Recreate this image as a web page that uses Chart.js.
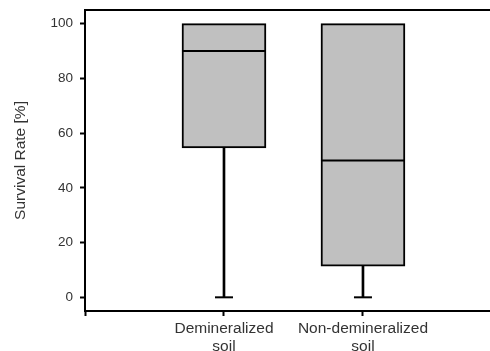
<!DOCTYPE html>
<html>
<head>
<meta charset="utf-8">
<script src="https://cdn.jsdelivr.net/npm/chart.js@4.4.1/dist/chart.umd.min.js"></script>
<style>
  html, body { margin: 0; padding: 0; background: #fff; }
  #wrap { width: 490px; height: 351px; }
</style>
</head>
<body>
<div id="wrap"><canvas id="myChart" width="490" height="351"></canvas></div>
<script>
// box plot values
const categories = [['Demineralized', 'soil'], ['Non-demineralized', 'soil']];
const minVals = [0, 0];
const q1Vals = [54.6, 11.4];
const medianVals = [90, 50];
const q3Vals = [100, 100];
const maxVals = [100, 100];
const yTicks = [0, 20, 40, 60, 80, 100];
const yTitle = 'Survival Rate [%]';

const font = 'Liberation Sans, Arial, Helvetica, sans-serif';
const textColor = '#333';

const idx = categories.map((c, i) => i);

// caps only where the whisker sticks out of the box
const caps = idx.filter(i => minVals[i] < q1Vals[i]).map(i => ({ x: i, y: minVals[i] }))
    .concat(idx.filter(i => maxVals[i] > q3Vals[i]).map(i => ({ x: i, y: maxVals[i] })));

// top frame line
const frameTop = {
    id: 'frameTop',
    afterDatasetsDraw(chart) {
        const a = chart.chartArea;
        const c = chart.ctx;
        c.save();
        c.strokeStyle = '#000';
        c.lineWidth = 2;
        c.beginPath();
        c.moveTo(a.left, a.top);
        c.lineTo(a.right, a.top);
        c.stroke();
        c.restore();
    }
};

const ctx = document.getElementById('myChart').getContext('2d');
const myChart = new Chart(ctx, {
    type: 'bar',
    data: {
        datasets: [
            {
                label: 'lower whisker',
                data: idx.map(i => ({ x: i, y: [minVals[i], q1Vals[i]] })),
                backgroundColor: '#000',
                borderWidth: 0,
                barThickness: 2,
                grouped: false,
                order: 4
            },
            {
                label: 'upper whisker',
                data: idx.filter(i => maxVals[i] > q3Vals[i]).map(i => ({ x: i, y: [q3Vals[i], maxVals[i]] })),
                backgroundColor: '#000',
                borderWidth: 0,
                barThickness: 2,
                grouped: false,
                order: 4
            },
            {
                label: 'box',
                data: idx.map(i => ({ x: i, y: [q1Vals[i], q3Vals[i]] })),
                backgroundColor: '#c0c0c0',
                borderColor: '#000',
                borderWidth: 2,
                borderSkipped: false,
                barThickness: 84,
                grouped: false,
                order: 3
            },
            {
                type: 'scatter',
                label: 'median',
                data: idx.map(i => ({ x: i, y: medianVals[i] })),
                pointStyle: 'line',
                pointRadius: 42,
                pointBorderWidth: 2,
                pointBorderColor: '#000',
                order: 1
            },
            {
                type: 'scatter',
                label: 'caps',
                data: caps,
                pointStyle: 'line',
                pointRadius: 9,
                pointBorderWidth: 2,
                pointBorderColor: '#000',
                order: 1
            }
        ]
    },
    options: {
        responsive: false,
        animation: false,
        layout: { autoPadding: false, padding: { top: 10, right: 0, bottom: 0, left: 0 } },
        plugins: {
            legend: { display: false },
            tooltip: { enabled: false }
        },
        scales: {
            x: {
                type: 'linear',
                min: -1,
                max: 1.914,
                offset: false,
                afterBuildTicks: scale => {
                    scale.ticks = [-1].concat(idx).map(v => ({ value: v }));
                },
                afterFit: scale => {
                    scale.height = 40;
                    scale.paddingLeft = 0;
                    scale.paddingRight = 0;
                },
                ticks: {
                    autoSkip: false,
                    maxRotation: 0,
                    padding: 3,
                    color: textColor,
                    font: { family: font, size: 15.5 },
                    callback: v => (v >= 0 && categories[v]) ? categories[v] : ''
                },
                grid: {
                    offset: false,
                    drawOnChartArea: false,
                    tickLength: 5,
                    tickWidth: 2,
                    tickColor: '#000'
                },
                border: { color: '#000', width: 2 }
            },
            y: {
                min: -5,
                max: 105,
                afterBuildTicks: scale => {
                    scale.ticks = yTicks.map(v => ({ value: v }));
                },
                afterFit: scale => {
                    scale.width = 85;
                    scale.paddingTop = 0;
                    scale.paddingBottom = 0;
                },
                ticks: {
                    padding: 7,
                    color: textColor,
                    font: { family: font, size: 13.5 }
                },
                grid: {
                    drawOnChartArea: false,
                    tickLength: 5,
                    tickWidth: 2,
                    tickColor: '#000'
                },
                border: { color: '#000', width: 2 },
                title: {
                    display: true,
                    text: yTitle,
                    color: textColor,
                    font: { family: font, size: 15.5 },
                    padding: { top: 11, bottom: 0 }
                }
            }
        }
    },
    plugins: [frameTop]
});
</script>
</body>
</html>
